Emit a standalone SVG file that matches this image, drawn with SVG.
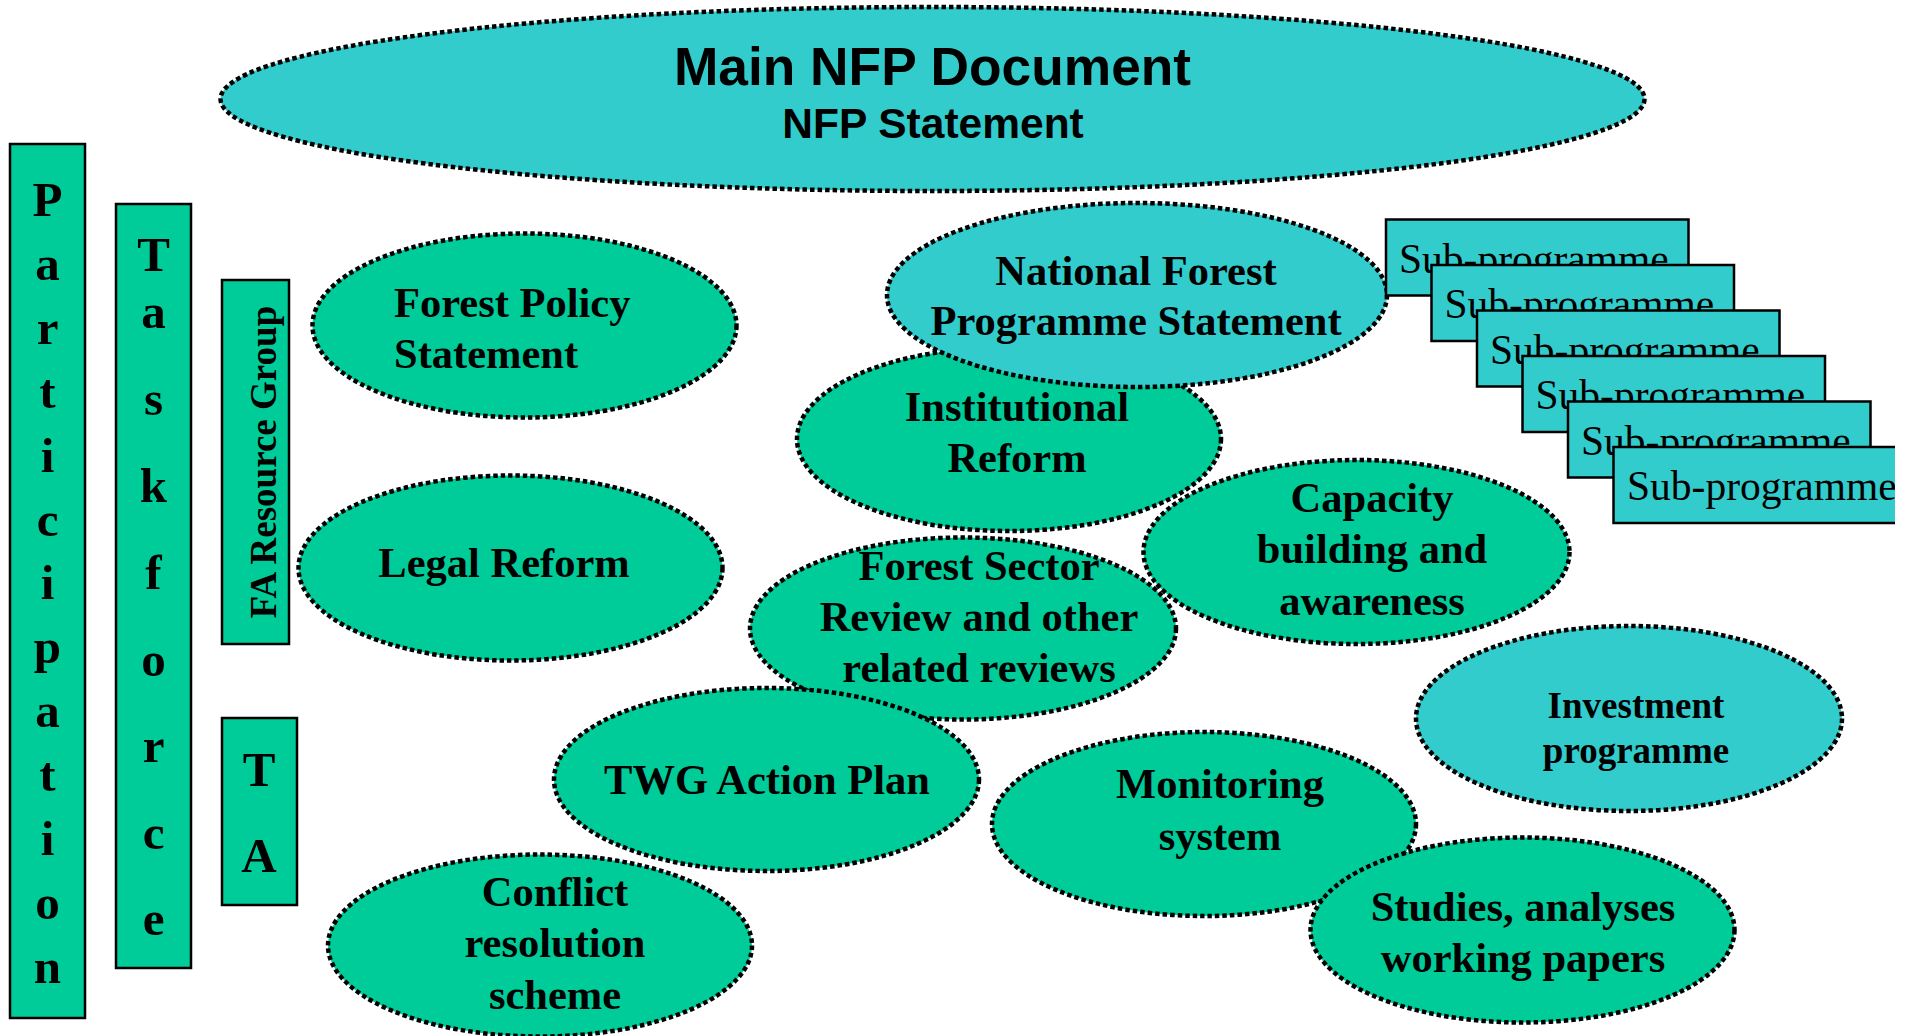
<svg xmlns="http://www.w3.org/2000/svg" width="1914" height="1036" viewBox="0 0 1914 1036">
<style>
.g{fill:#00CC99}
.c{fill:#33CCCC}
.e{stroke:#000;stroke-width:4.5;stroke-dasharray:4.5 3}
.b{stroke:#000;stroke-width:2.5}
.t{font-family:"Liberation Serif","Times New Roman",serif;font-weight:bold;font-size:42.5px;fill:#000;text-anchor:middle}
.L{font-family:"Liberation Serif","Times New Roman",serif;font-weight:bold;font-size:49px;fill:#000;text-anchor:middle}
.s{font-family:"Liberation Serif","Times New Roman",serif;font-size:41.5px;fill:#000}
.a{font-family:"Liberation Sans",Arial,sans-serif;font-weight:bold;fill:#000;text-anchor:middle}
</style>
<defs>
<clipPath id="cut"><rect x="0" y="0" width="1895" height="1036"/></clipPath>
</defs>
<rect width="1914" height="1036" fill="#fff"/>

<g id="main">
<ellipse class="c e" cx="932.5" cy="99" rx="712" ry="92"/>
<text class="a" x="932.5" y="85" font-size="53.3">Main NFP Document</text>
<text class="a" x="933" y="137.5" font-size="42.5">NFP Statement</text>
</g>

<g id="participation">
<rect class="g b" x="10" y="144" width="75" height="874"/>
<text class="L" x="47.5" y="216" font-size="50">P</text>
<text class="L" x="47.5" y="280" font-size="50">a</text>
<text class="L" x="47.5" y="344" font-size="50">r</text>
<text class="L" x="47.5" y="408" font-size="50">t</text>
<text class="L" x="47.5" y="472" font-size="50">i</text>
<text class="L" x="47.5" y="536" font-size="50">c</text>
<text class="L" x="47.5" y="599" font-size="50">i</text>
<text class="L" x="47.5" y="663" font-size="50">p</text>
<text class="L" x="47.5" y="727" font-size="50">a</text>
<text class="L" x="47.5" y="791" font-size="50">t</text>
<text class="L" x="47.5" y="855" font-size="50">i</text>
<text class="L" x="47.5" y="919" font-size="50">o</text>
<text class="L" x="47.5" y="983" font-size="50">n</text>
</g>

<g id="taskforce">
<rect class="g b" x="116" y="204" width="75" height="764"/>
<text class="L" x="153.5" y="271">T</text>
<text class="L" x="153.5" y="328">a</text>
<text class="L" x="153.5" y="415">s</text>
<text class="L" x="153.5" y="502">k</text>
<text class="L" x="153.5" y="589">f</text>
<text class="L" x="153.5" y="676">o</text>
<text class="L" x="153.5" y="762">r</text>
<text class="L" x="153.5" y="849">c</text>
<text class="L" x="153.5" y="935">e</text>
</g>

<g id="fa-resource-group">
<rect class="g b" x="222" y="280" width="67" height="364"/>
<text class="t" x="276" y="462" transform="rotate(-90 276 462)" style="font-size:37px">FA Resource Group</text>
</g>

<g id="ta">
<rect class="g b" x="222" y="718" width="75" height="187"/>
<text class="L" x="259" y="786">T</text>
<text class="L" x="259" y="872">A</text>
</g>

<g id="forest-policy">
<ellipse class="g e" cx="524.5" cy="325.5" rx="212" ry="92"/>
<text class="t" x="394" y="316.5" style="text-anchor:start">Forest Policy</text>
<text class="t" x="394" y="367.5" style="text-anchor:start">Statement</text>
</g>

<g id="legal-reform">
<ellipse class="g e" cx="510.5" cy="568" rx="212" ry="92.5"/>
<text class="t" x="504" y="577">Legal Reform</text>
</g>

<g id="institutional-reform">
<ellipse class="g e" cx="1009" cy="439" rx="212" ry="92"/>
<text class="t" x="1017" y="420.5">Institutional</text>
<text class="t" x="1017" y="472">Reform</text>
</g>

<g id="nfp-statement">
<ellipse class="c e" cx="1137" cy="295" rx="250" ry="92"/>
<text class="t" x="1136" y="285">National Forest</text>
<text class="t" x="1136" y="334.5">Programme Statement</text>
</g>

<g id="capacity">
<ellipse class="g e" cx="1356.5" cy="552" rx="213" ry="92"/>
<text class="t" x="1372" y="511.5">Capacity</text>
<text class="t" x="1372" y="563">building and</text>
<text class="t" x="1372" y="615">awareness</text>
</g>

<g id="forest-sector-review">
<ellipse class="g e" cx="963" cy="628.5" rx="213" ry="91"/>
<text class="t" x="979" y="579.5">Forest Sector</text>
<text class="t" x="979" y="631">Review and other</text>
<text class="t" x="979" y="682">related reviews</text>
</g>

<g id="twg-action-plan">
<ellipse class="g e" cx="766.5" cy="779.5" rx="212.5" ry="91.5"/>
<text class="t" x="767" y="793.5">TWG Action Plan</text>
</g>

<g id="conflict-resolution">
<ellipse class="g e" cx="540" cy="945.5" rx="212" ry="91"/>
<text class="t" x="555" y="905.5">Conflict</text>
<text class="t" x="555" y="957">resolution</text>
<text class="t" x="555" y="1008.5">scheme</text>
</g>

<g id="monitoring-system">
<ellipse class="g e" cx="1204" cy="824" rx="212" ry="92"/>
<text class="t" x="1220" y="797.5">Monitoring</text>
<text class="t" x="1220" y="849.5">system</text>
</g>

<g id="investment-programme">
<ellipse class="c e" cx="1629" cy="718.5" rx="213" ry="92.5"/>
<text class="t" x="1636" y="717.5" style="font-size:37px">Investment</text>
<text class="t" x="1636" y="762.5" style="font-size:37px">programme</text>
</g>

<g id="studies">
<ellipse class="g e" cx="1522.5" cy="930" rx="212" ry="92.5"/>
<text class="t" x="1523" y="921">Studies, analyses</text>
<text class="t" x="1523" y="972">working papers</text>
</g>

<g id="sub-programme-1">
<rect class="c b" x="1386" y="219.5" width="302.5" height="76"/>
<text class="s" x="1399" y="272.5">Sub-programme</text>
</g>
<g id="sub-programme-2">
<rect class="c b" x="1431.5" y="265" width="302.5" height="76"/>
<text class="s" x="1444.5" y="318">Sub-programme</text>
</g>
<g id="sub-programme-3">
<rect class="c b" x="1477" y="310.5" width="302.5" height="76"/>
<text class="s" x="1490" y="363.5">Sub-programme</text>
</g>
<g id="sub-programme-4">
<rect class="c b" x="1522.5" y="356" width="302.5" height="76"/>
<text class="s" x="1535.5" y="409">Sub-programme</text>
</g>
<g id="sub-programme-5">
<rect class="c b" x="1568" y="401.5" width="302.5" height="76"/>
<text class="s" x="1581" y="454.5">Sub-programme</text>
</g>
<g id="sub-programme-6" clip-path="url(#cut)">
<rect class="c b" x="1613.5" y="447" width="302.5" height="76"/>
<text class="s" x="1627" y="500">Sub-programme</text>
</g>

<g id="connectors"></g>
</svg>
